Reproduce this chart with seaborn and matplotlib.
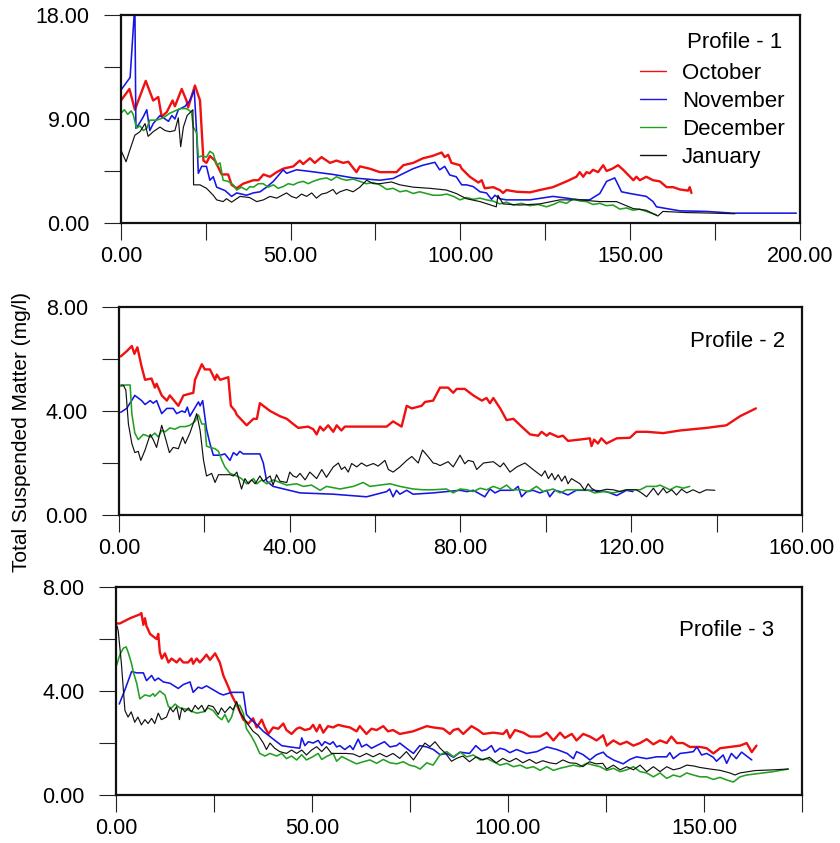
import matplotlib
matplotlib.use("Agg")
import matplotlib.pyplot as plt
from matplotlib.ticker import MultipleLocator, FormatStrFormatter
import seaborn as sns
import pandas as pd

# ---- data: (distance, TSM mg/l) ----
P1_OCT = [(0, 10.6), (2.5, 11.6), (4.1, 9.8), (7.3, 12.3), (9.5, 10.6), (11, 10.9), (12, 9.2), (13.5, 9.6),
          (15.2, 10.6), (15.9, 10.1), (17.9, 11.6), (19.3, 10.6), (19.8, 10.0), (21.8, 11.9), (23.3, 10.6),
          (24.3, 5.4), (25.2, 5.2), (26.2, 5.8), (27.7, 5.4), (29.7, 4.2), (31.6, 4.2), (32.6, 3.3), (34.1, 3.0),
          (36, 3.4), (39, 3.7), (40.5, 3.7), (42, 4.2), (43.9, 4.0), (45.9, 4.4), (47.8, 4.7), (50.8, 4.9),
          (52.7, 5.4), (53.7, 5.1), (55.7, 5.6), (57.1, 5.2), (59.1, 5.7), (61.6, 5.2), (63.5, 5.4), (65.5, 5.2),
          (67, 5.3), (69.4, 4.4), (70.4, 4.9), (73.3, 4.7), (76.3, 4.4), (81.2, 4.4), (83.2, 5.0), (86.1, 5.2),
          (89, 5.6), (91.8, 5.8), (94.5, 6.1), (95.4, 5.7), (96.4, 5.9), (97.4, 5.2), (99.9, 5.0), (100.4, 4.7),
          (102.8, 4.0), (105.3, 3.5), (106.3, 3.7), (107.2, 3.0), (109.7, 3.1), (111.6, 2.85), (112.6, 2.6),
          (113.6, 2.85), (116.6, 2.7), (120.5, 2.65), (123.4, 2.85), (127.3, 3.1), (131.3, 3.6), (134.2, 4.0),
          (135.2, 4.4), (136.2, 4.0), (137.2, 4.4), (138.1, 4.3), (139.1, 4.6), (140.6, 4.4), (142.1, 5.0),
          (143.1, 4.5), (144.8, 4.7), (146.5, 5.0), (148, 4.6), (150, 4.0), (151, 3.7), (151.9, 4.0), (152.9, 3.7),
          (154.8, 4.0), (156.8, 3.7), (158.8, 3.6), (160.8, 3.1), (162.7, 3.1), (164.7, 2.9), (167.1, 2.8),
          (167.6, 3.1), (168.1, 2.6)]
P1_NOV = [(0, 11.5), (2.7, 12.6), (4.1, 19.0), (4.4, 8.2), (5.4, 8.6), (6.6, 9.2), (7.6, 9.8), (8.5, 8.0),
          (9.5, 8.6), (11.5, 9.3), (13, 9.0), (14, 8.8), (15, 9.3), (15.9, 9.0), (16.9, 9.8), (18.9, 10.1),
          (20.3, 10.6), (21.6, 11.5), (22.3, 7.8), (22.8, 4.3), (23.8, 4.9), (25.2, 4.9), (26.2, 3.7), (27.2, 4.0),
          (28.2, 3.1), (30.7, 2.8), (32.6, 2.3), (34.1, 2.6), (37, 2.4), (39, 2.6), (41, 2.7), (42.9, 3.1),
          (44.9, 3.6), (47.8, 4.6), (48.8, 4.3), (51.7, 4.6), (54.7, 4.5), (62.5, 4.2), (68.4, 3.9), (76.3, 3.7),
          (80.2, 3.85), (86.1, 4.7), (89, 5.0), (92.5, 5.25), (93.9, 4.6), (95.4, 4.9), (96.9, 4.15), (98.8, 4.0),
          (100.4, 3.3), (101.8, 3.3), (103.8, 3.15), (105.8, 2.7), (107.7, 2.6), (109.2, 2.05), (110.2, 2.4),
          (111.6, 2.1), (113.6, 2.0), (120.5, 2.0), (127.3, 2.3), (131.3, 2.15), (135.2, 2.0), (138.1, 2.0),
          (141.1, 2.55), (143.1, 3.6), (145.5, 3.9), (146.5, 3.3), (147.5, 2.7), (150, 2.55), (152.9, 2.4),
          (154.8, 2.3), (156.8, 1.85), (157.8, 1.4), (160.7, 1.25), (164.7, 1.05), (172.5, 1.0), (180.4, 0.85),
          (199, 0.85)]
P1_DEC = [(0, 9.5), (1, 9.8), (2, 9.4), (3, 9.7), (3.6, 9.4), (4.6, 8.2), (5.6, 8.4), (6.6, 8.0), (7.6, 8.2),
          (8.5, 8.9), (10.5, 8.9), (12.5, 9.1), (14.4, 9.5), (17.4, 9.9), (19.3, 9.9), (20.8, 9.6), (21.3, 8.3),
          (22.3, 7.8), (22.8, 5.7), (23.8, 5.8), (25.2, 5.7), (26.2, 6.2), (27.2, 6.0), (28.2, 5.0), (29.2, 5.2),
          (30.1, 3.7), (31.6, 3.6), (33.1, 3.3), (34.1, 2.85), (35.5, 3.1), (37, 2.85), (38, 3.15), (39, 3.1),
          (40.5, 3.4), (41.9, 3.4), (43.4, 3.1), (44.9, 3.3), (46.3, 3.0), (47.8, 3.15), (49.3, 3.4), (50.8, 3.3),
          (52.2, 3.5), (53.7, 3.6), (55.2, 3.4), (56.6, 3.6), (58.6, 3.8), (60.6, 3.9), (62, 3.7), (63.5, 4.0),
          (65, 3.8), (66.5, 3.7), (68.4, 3.8), (70.4, 3.6), (72.3, 3.4), (74.3, 3.5), (76.3, 3.3), (78.3, 2.9),
          (80.2, 3.0), (82.2, 2.7), (84.1, 2.8), (86.1, 2.55), (88, 2.7), (90, 2.55), (92, 2.4), (94, 2.4),
          (96, 2.5), (98, 2.3), (99.9, 2.0), (101.8, 2.2), (103.8, 2.05), (105.8, 2.15), (107.7, 2.0), (109.6, 1.9),
          (111.6, 1.65), (113.6, 1.8), (115.6, 1.55), (118, 1.7), (120.5, 1.5), (123, 1.6), (125.4, 1.4),
          (127.4, 1.6), (129.3, 1.85), (131.3, 1.7), (133.3, 2.1), (135.2, 1.9), (137.2, 1.85), (139.1, 1.6),
          (141.1, 1.7), (143, 1.5), (145, 1.55), (147, 1.2), (149, 1.3), (150.9, 1.1), (152.8, 1.2), (154.8, 1.0),
          (157.8, 0.7)]
P1_JAN = [(0, 6.3), (1.5, 5.3), (2.6, 6.3), (4.1, 7.6), (5.6, 7.9), (7.1, 8.6), (8, 7.5), (9.5, 7.9), (11.5, 8.3),
          (13, 8.0), (14.4, 7.9), (15.9, 8.0), (16.9, 9.1), (17.6, 6.6), (18.4, 8.3), (19.5, 9.3), (21.2, 9.8),
          (21.4, 3.3), (23.3, 3.3), (25.2, 3.0), (27.2, 2.4), (28.2, 2.0), (30.1, 1.85), (31.1, 2.1), (32.6, 1.8),
          (35.1, 2.3), (37.9, 2.2), (40, 1.85), (42, 2.0), (43.9, 2.3), (45.9, 2.15), (48.8, 2.6), (50.2, 2.3),
          (51.7, 2.15), (53.2, 2.5), (54.7, 2.3), (56.2, 2.6), (57.6, 2.15), (59.1, 2.5), (60.6, 2.6), (62.5, 2.9),
          (63.5, 2.5), (64.5, 2.7), (66.5, 2.9), (68.4, 2.7), (70.4, 3.1), (72.4, 3.7), (74.4, 3.4), (76.3, 3.4),
          (79.7, 3.55), (82.2, 3.3), (86.1, 3.1), (91, 3.0), (95.9, 2.85), (98.8, 2.55), (101.8, 2.1),
          (105.8, 1.85), (110.6, 1.4), (111.1, 2.4), (112.6, 1.65), (117.5, 1.55), (123.4, 1.65), (129.3, 2.0),
          (135.2, 2.0), (141.1, 1.85), (146, 1.85), (150.9, 1.25), (154.8, 1.1), (158.2, 0.6), (159.7, 1.0),
          (166.6, 0.9), (174.5, 0.85), (180.9, 0.8)]

P2_OCT = [(0.4, 6.1), (1.8, 6.3), (3.0, 6.5), (3.6, 6.2), (4.3, 6.45), (5.3, 5.7), (6.1, 5.2), (7.6, 5.25),
          (8.4, 4.9), (8.8, 5.05), (10, 4.6), (11.2, 4.4), (11.9, 4.6), (13.9, 4.2), (15.1, 4.6), (17.4, 4.7),
          (17.8, 5.2), (19.4, 5.8), (20.1, 5.6), (21.3, 5.6), (22.5, 5.2), (22.9, 5.4), (23.7, 5.2), (25.6, 5.3),
          (26.2, 4.2), (27.2, 4.0), (27.6, 3.85), (29.9, 3.45), (31.5, 3.7), (32.3, 3.7), (33, 4.3), (35.4, 4.0),
          (37.7, 3.8), (39.3, 3.7), (40.8, 3.5), (42, 3.35), (44.3, 3.4), (45.5, 3.3), (46.3, 3.1), (47.1, 3.4),
          (47.9, 3.25), (49, 3.45), (50.2, 3.2), (51, 3.45), (52.1, 3.25), (52.9, 3.4), (62.7, 3.4), (64.2, 3.6),
          (66.2, 3.4), (67.4, 4.2), (68.6, 4.1), (70.9, 4.2), (71.7, 4.35), (73.6, 4.4), (75.2, 4.9), (77.1, 4.9),
          (78.3, 4.7), (79.1, 4.85), (81.0, 4.85), (83.0, 4.6), (85, 4.4), (86.1, 4.5), (86.9, 4.3), (87.7, 4.5),
          (89.3, 4.1), (90.8, 3.65), (92.4, 3.7), (94, 3.45), (96.3, 3.1), (98.2, 3.05), (99, 3.2), (100.2, 3.05),
          (100.9, 3.15), (102.9, 3.0), (104, 3.05), (105.2, 2.85), (107.9, 2.9), (110.3, 2.95), (110.7, 2.65),
          (111.3, 2.9), (112.2, 2.75), (113, 2.95), (114.2, 2.75), (116.6, 2.95), (119.7, 2.97), (121.2, 3.2),
          (123.6, 3.2), (127.5, 3.15), (131.4, 3.25), (137.6, 3.35), (142.3, 3.45), (145.5, 3.8), (149.2, 4.1)]
P2_NOV = [(0.4, 3.95), (1.8, 4.1), (3.7, 4.6), (5.3, 4.4), (6.1, 4.25), (7.3, 4.4), (8.0, 4.3), (8.8, 4.4),
          (10, 3.9), (11.2, 4.1), (12.7, 4.1), (13.5, 3.9), (14.7, 4.0), (15.5, 3.95), (16, 4.15), (16.6, 3.8),
          (18.6, 4.35), (19, 4.2), (19.6, 4.4), (20.5, 3.3), (21.3, 2.75), (22.1, 2.3), (23.7, 2.3), (24.8, 2.35),
          (26, 2.1), (26.8, 2.4), (27.6, 2.3), (28.3, 2.45), (29.1, 2.35), (33, 2.35), (33.8, 2.0), (34.6, 1.3),
          (36.1, 1.1), (42.4, 0.85), (50.2, 0.8), (58, 0.7), (62.7, 0.9), (63.4, 1.0), (64.2, 0.7), (65, 0.95),
          (65.8, 0.8), (67.4, 0.95), (68.9, 0.8), (73.6, 0.85), (79.9, 0.95), (81.5, 0.9), (83, 0.95), (85.7, 0.7),
          (86.9, 1.0), (88.1, 0.85), (89.3, 0.95), (92.4, 0.95), (93.5, 1.1), (94.3, 0.7), (95.5, 0.9),
          (97.0, 0.95), (98.6, 0.85), (100.2, 0.95), (100.9, 0.7), (102.1, 0.95), (103.3, 0.9), (105.2, 0.77),
          (107.1, 0.95), (111.0, 0.95), (114.2, 0.9), (116.6, 0.75), (118.9, 0.95), (120.4, 0.9)]
P2_DEC = [(0.4, 4.95), (1.4, 5.0), (2.6, 5.0), (3.0, 3.9), (3.7, 3.15), (4.5, 2.9), (5.7, 3.1), (7.3, 3.0),
          (8.4, 3.15), (9.2, 3.0), (10, 3.25), (10.8, 3.2), (11.9, 3.35), (13.1, 3.3), (14.3, 3.4), (15.5, 3.4),
          (16.6, 3.45), (17.8, 3.6), (18.6, 3.85), (19.4, 3.5), (20.1, 3.5), (20.5, 2.65), (21.3, 2.6),
          (22.5, 2.55), (23.3, 2.45), (24.1, 2.1), (24.8, 1.85), (26, 1.6), (27.6, 1.5), (28.7, 1.4), (29.9, 1.2),
          (31.5, 1.4), (32.3, 1.2), (33.4, 1.35), (34.6, 1.2), (36.1, 1.35), (37.7, 1.25), (39.3, 1.15),
          (41.6, 1.2), (43.2, 1.1), (45.1, 1.15), (47.1, 0.95), (48.6, 1.1), (51.8, 1.0), (54.9, 1.1), (57.2, 1.25),
          (58.8, 1.1), (61.1, 1.15), (63.5, 1.2), (65.8, 1.1), (68.9, 1.0), (71.3, 0.97), (73.6, 0.97), (76.7, 1.0),
          (78.3, 0.85), (79.9, 1.0), (81.5, 0.97), (83, 0.9), (84.6, 1.03), (86.1, 0.97), (87.7, 1.1), (89.3, 1.0),
          (90.8, 1.15), (92, 0.97), (94.3, 0.97), (95.9, 0.9), (97.8, 1.1), (99.4, 0.9), (101.7, 1.0),
          (103.3, 0.85), (104.9, 0.97), (108.1, 0.97), (109.7, 0.97), (111.4, 0.85), (113.6, 0.9), (115.8, 0.85),
          (118.9, 0.97), (122.1, 0.97), (123.6, 1.1), (125.9, 1.1), (126.7, 1.15), (129.1, 0.97), (130.6, 1.1),
          (132.2, 1.03), (133.7, 1.1)]
P2_JAN = [(0.4, 5.0), (1.0, 5.0), (1.6, 4.8), (2.2, 3.5), (3.0, 2.75), (3.7, 2.4), (4.5, 2.45), (5.1, 2.1),
          (6.1, 2.5), (7.3, 3.1), (8.0, 2.9), (8.8, 2.6), (10, 3.45), (10.8, 3.0), (11.8, 2.4), (12.7, 2.6),
          (13.9, 2.55), (14.9, 3.0), (15.5, 2.75), (16.6, 3.15), (18.2, 3.9), (19, 3.25), (19.8, 2.1), (20.5, 1.5),
          (21.7, 1.6), (22.5, 1.25), (23.3, 1.55), (24.5, 1.55), (26, 1.55), (26.8, 1.5), (27.6, 1.65), (28.7, 1.0),
          (29.5, 1.4), (30.3, 1.2), (31.1, 1.35), (31.9, 1.2), (33, 1.5), (33.8, 1.3), (35.4, 1.5), (36.1, 1.15),
          (36.9, 1.55), (37.7, 1.3), (39.3, 1.25), (40, 1.65), (40.8, 1.5), (41.6, 1.45), (42.4, 1.6), (43.6, 1.35),
          (44.7, 1.65), (46.3, 1.4), (47.5, 1.75), (48.6, 1.45), (50.2, 1.85), (51.4, 2.0), (52.1, 1.75),
          (52.9, 1.85), (53.7, 1.65), (54.5, 1.98), (55.7, 1.85), (56.8, 2.0), (58, 1.88), (59.6, 1.98),
          (60.7, 1.88), (62.3, 2.1), (63.1, 1.75), (64.2, 1.65), (65.8, 1.85), (67.4, 2.1), (68.6, 2.25),
          (70.1, 2.0), (71.1, 2.5), (72.4, 2.25), (73.6, 2.0), (74.4, 1.97), (75.2, 1.9), (77.1, 2.05),
          (78.3, 1.85), (79.9, 2.3), (81.0, 1.97), (81.8, 2.1), (83.0, 2.05), (83.8, 1.75), (85.4, 2.0),
          (87.7, 2.05), (89.3, 1.85), (90.1, 2.0), (91.6, 1.65), (93.2, 1.85), (95.1, 2.0), (97.0, 1.75),
          (99, 1.5), (99.8, 1.7), (100.6, 1.4), (101.4, 1.6), (102.1, 1.35), (102.9, 1.55), (103.7, 1.3),
          (104.5, 1.5), (105.2, 1.2), (106.0, 1.4), (108.0, 1.2), (109.1, 0.95), (109.9, 1.2), (110.7, 1.03),
          (111.9, 0.9), (114.2, 0.99), (115.8, 0.97), (117.4, 0.9), (118.9, 0.97), (121.2, 0.97), (122.4, 0.85),
          (123.6, 0.7), (125.2, 1.03), (126.3, 0.77), (127.5, 1.03), (128.3, 0.85), (129.5, 0.97), (130.6, 0.77),
          (131.8, 0.99), (133, 0.85), (134.5, 0.97), (136, 0.85), (137.6, 0.97), (139.6, 0.95)]

P3_OCT = [(0, 6.6), (1.0, 6.6), (3.6, 6.8), (6.1, 6.95), (6.5, 7.0), (7.0, 6.55), (7.4, 6.8), (7.8, 6.5),
          (8.7, 6.2), (9.5, 6.1), (10.4, 6.0), (10.8, 6.2), (11.2, 5.5), (11.7, 5.25), (12.5, 5.45), (13.4, 5.1),
          (14.2, 5.25), (15.5, 5.1), (16.3, 5.25), (17.2, 5.1), (18.4, 5.1), (19.3, 5.25), (19.7, 5.05),
          (20.6, 5.25), (21.4, 5.1), (22.3, 5.25), (23.1, 5.4), (24, 5.2), (25.3, 5.45), (26.5, 5.1), (27.4, 4.6),
          (28.7, 4.15), (29.5, 3.85), (31.2, 3.35), (32.5, 2.9), (33.8, 2.75), (35, 2.95), (35.9, 2.6), (37.2, 2.9),
          (38, 2.6), (38.9, 2.35), (40.1, 2.6), (41.4, 2.55), (42.7, 2.75), (43.5, 2.5), (44.8, 2.35), (46.1, 2.55),
          (46.9, 2.6), (48.2, 2.5), (49.5, 2.55), (50.3, 2.7), (51.2, 2.45), (52, 2.7), (52.9, 2.4), (54.1, 2.65),
          (55.4, 2.6), (56.7, 2.7), (58, 2.65), (59.7, 2.6), (61.4, 2.45), (62.2, 2.65), (63.9, 2.35), (65.2, 2.55),
          (66.5, 2.5), (68.2, 2.65), (69.4, 2.45), (70.7, 2.5), (72.4, 2.35), (75.8, 2.45), (79.3, 2.65),
          (81, 2.6), (83.5, 2.55), (85.2, 2.35), (86.1, 2.5), (87.3, 2.55), (88.6, 2.35), (90.7, 2.65), (92.4, 2.5),
          (93.7, 2.35), (96.3, 2.4), (98.8, 2.35), (99.7, 2.5), (100.5, 2.2), (101.8, 2.5), (103.9, 2.4),
          (105.6, 2.25), (108.2, 2.25), (109.9, 2.4), (111.6, 2.1), (113.3, 2.4), (114.5, 2.2), (116.3, 2.35),
          (117.5, 2.1), (119.2, 2.35), (120.9, 2.25), (122.6, 2.1), (124.3, 2.3), (125.2, 1.9), (126.9, 2.1),
          (128.6, 1.95), (130.3, 2.05), (132, 1.9), (133.7, 2.0), (135.4, 2.15), (137.1, 1.95), (138.8, 2.1),
          (140.5, 2.0), (141.7, 2.25), (143.1, 2.0), (144.7, 2.0), (146.4, 1.85), (149, 1.85), (150.7, 1.8),
          (152.4, 1.6), (154.1, 1.8), (156.6, 1.85), (159.2, 1.9), (160.9, 2.0), (162.2, 1.65), (163.4, 1.9)]
P3_NOV = [(0.85, 3.5), (2.3, 4.05), (4.0, 4.75), (5.3, 4.7), (7, 4.7), (7.8, 4.4), (9.1, 4.6), (9.9, 4.4),
          (10.8, 4.5), (12.1, 4.35), (13.8, 4.3), (15.9, 4.1), (17.2, 4.25), (18.9, 4.35), (19.7, 3.95), (21, 4.15),
          (21.9, 4.1), (23.1, 4.2), (24.8, 4.05), (26.5, 3.9), (27.4, 3.85), (29.5, 3.95), (31.6, 3.95),
          (32.5, 3.95), (33.3, 3.1), (34.2, 2.95), (36.3, 2.65), (37.6, 2.45), (39.3, 2.25), (41, 2.05),
          (42.3, 1.9), (44.4, 1.85), (46.9, 1.8), (47.4, 2.2), (48.2, 1.9), (49.1, 2.05), (50.3, 2.0), (51.6, 2.1),
          (52.5, 1.9), (53.3, 2.05), (54.6, 1.95), (55.4, 2.05), (56.3, 1.85), (57.1, 1.9), (58.4, 1.75),
          (59.7, 1.9), (60.5, 1.75), (61.8, 2.15), (62.7, 1.85), (63.9, 1.95), (65.2, 1.8), (66.5, 1.9),
          (68.5, 2.05), (69.9, 1.85), (71.6, 1.9), (72.4, 2.0), (74.1, 1.8), (75.9, 1.6), (77.5, 1.9), (79.3, 1.85),
          (81, 1.75), (82.7, 1.55), (84.4, 1.6), (86.1, 1.45), (87.8, 1.65), (90.2, 1.6), (91.8, 1.9), (93.3, 1.7),
          (94.5, 1.75), (95.8, 1.9), (96.7, 1.65), (98.0, 1.8), (99.2, 1.75), (100.5, 1.63), (102.2, 1.75),
          (104.8, 1.6), (107.4, 1.67), (109.9, 1.85), (112.5, 1.75), (115.1, 1.6), (116.7, 1.4), (117.5, 1.67),
          (119.2, 1.55), (120.9, 1.35), (122.6, 1.55), (124.3, 1.65), (125.2, 1.5), (126.9, 1.35), (129.4, 1.2),
          (131.1, 1.37), (132.8, 1.47), (135.4, 1.4), (137.9, 1.47), (140.5, 1.47), (141.3, 1.63), (142.2, 1.4),
          (143.9, 1.6), (145.6, 1.63), (147.3, 1.67), (148.2, 1.85), (149.4, 1.54), (150.7, 1.6), (152.4, 1.45),
          (153.2, 1.3), (154.9, 1.54), (155.8, 1.22), (157, 1.6), (158.3, 1.4), (159.6, 1.65), (160.9, 1.5),
          (162.2, 1.35)]
P3_DEC = [(0.2, 5.0), (1, 5.4), (1.9, 5.65), (2.6, 5.7), (3.1, 5.5), (4, 5.05), (4.4, 4.75), (5.3, 4.3),
          (6.1, 3.7), (7.4, 3.85), (8.7, 3.8), (9.5, 3.9), (9.9, 3.8), (11.2, 4.0), (12.5, 3.85), (13.4, 3.4),
          (14.2, 3.35), (15.1, 3.5), (16.3, 3.35), (18.0, 3.3), (18.8, 3.25), (20.6, 3.15), (22.3, 3.2),
          (23.5, 3.35), (24.8, 3.25), (26.1, 3.0), (27, 2.9), (27.8, 3.1), (28.7, 2.8), (29.5, 3.0), (30.4, 3.45),
          (31.6, 3.45), (32.5, 3.15), (33.3, 2.55), (34.6, 2.25), (35.5, 2.0), (36.7, 1.6), (38, 1.5), (39.3, 1.6),
          (41, 1.5), (42.3, 1.6), (43.5, 1.4), (44.8, 1.5), (46.1, 1.35), (47.4, 1.55), (48.6, 1.35), (50.3, 1.48),
          (51.6, 1.6), (52.5, 1.37), (53.7, 1.48), (55.4, 1.6), (56.3, 1.3), (57.6, 1.48), (59.3, 1.35),
          (61.4, 1.2), (63.1, 1.28), (64.8, 1.35), (66.5, 1.22), (68.2, 1.37), (69.9, 1.24), (71.6, 1.2),
          (73.3, 1.28), (74.9, 1.15), (76.3, 1.1), (77.6, 1.0), (79.3, 1.24), (80.9, 1.15), (82.7, 1.55),
          (84.4, 1.67), (86.1, 1.47), (87.8, 1.65), (89.5, 1.47), (91.2, 1.54), (92.9, 1.35), (94.6, 1.41),
          (96.3, 1.28), (98, 1.15), (99.7, 1.22), (101.4, 1.09), (103.1, 1.15), (104.8, 1.03), (106.5, 1.09),
          (108.2, 0.95), (109.9, 1.09), (111.6, 0.95), (113.3, 1.03), (115, 1.09), (116.7, 1.15), (118.4, 1.09),
          (120.1, 1.22), (121.8, 1.15), (123.5, 1.09), (125.2, 0.95), (126.9, 1.03), (128.6, 0.9), (130.3, 0.97),
          (132, 1.09), (133.7, 0.9), (135.4, 0.85), (137.1, 0.7), (138.8, 0.85), (140.5, 0.64), (142.2, 0.77),
          (143.9, 0.7), (145.6, 0.85), (147.3, 0.77), (149, 0.7), (150.7, 0.7), (152.4, 0.6), (154.1, 0.68),
          (155.8, 0.58), (157.5, 0.5), (159.2, 0.7), (160.9, 0.77), (167.7, 0.9), (171.5, 1.0)]
P3_JAN = [(0.3, 6.5), (0.6, 6.3), (1.4, 5.05), (2.3, 3.25), (3.1, 3.0), (3.9, 3.2), (4.8, 2.8), (5.6, 3.0),
          (6.5, 2.7), (7.4, 2.9), (8.2, 2.75), (9.1, 2.95), (9.9, 2.75), (10.8, 3.15), (11.6, 2.9), (12.9, 3.0),
          (13.8, 3.35), (14.6, 3.2), (15.5, 3.4), (16.2, 2.9), (16.8, 3.35), (17.6, 3.2), (18.5, 3.35), (19.3, 3.2),
          (20.2, 3.45), (21, 3.3), (21.9, 3.45), (22.7, 3.2), (23.6, 3.45), (24.8, 3.4), (26.1, 3.1), (26.9, 3.35),
          (27.8, 3.17), (29.1, 3.4), (29.9, 3.27), (30.8, 3.6), (31.6, 3.2), (33.3, 2.8), (35, 2.45), (36.3, 2.3),
          (37.6, 2.0), (38.4, 1.75), (39.3, 2.0), (40.5, 1.8), (41.8, 1.67), (43.5, 1.6), (44.8, 1.73),
          (46.1, 1.6), (47.4, 1.73), (48.6, 1.54), (49.9, 1.73), (51.2, 1.86), (52.5, 1.67), (53.7, 1.86),
          (55, 1.6), (56.3, 1.6), (58.8, 1.6), (60.5, 1.58), (62.2, 1.47), (63.9, 1.6), (65.6, 1.47), (67.3, 1.6),
          (69, 1.47), (70.7, 1.6), (72.4, 1.41), (74.1, 1.67), (75.9, 1.35), (77.6, 1.73), (78.8, 2.0),
          (80.1, 1.86), (81.4, 2.05), (82.7, 1.8), (84.1, 1.6), (85.6, 1.3), (86.9, 1.41), (88.5, 1.5),
          (90.2, 1.28), (91.9, 1.47), (93.6, 1.35), (95.3, 1.45), (97, 1.24), (98.7, 1.41), (100.4, 1.28),
          (102.1, 1.41), (103.8, 1.24), (105.5, 1.37), (107.2, 1.22), (108.9, 1.32), (110.6, 1.24), (112.3, 1.2),
          (114, 1.35), (115.7, 1.24), (117.4, 1.22), (119.1, 1.09), (120.8, 1.28), (122.5, 1.2), (124.2, 1.22),
          (125.2, 1.0), (126.9, 1.15), (128.6, 0.97), (130.3, 1.09), (132, 0.97), (133.7, 1.15), (135.4, 0.9),
          (137.1, 1.09), (138.8, 0.9), (140.5, 1.09), (142.2, 0.97), (143.9, 1.03), (145.6, 1.15), (147.3, 1.12),
          (149, 1.06), (151.6, 1.0), (154.1, 0.95), (156.6, 0.85), (157.9, 0.77), (159.2, 0.85), (163, 0.94),
          (167.7, 0.97), (171.5, 1.0)]

MONTHS = ["October", "November", "December", "January"]
COLORS = {"October": "#f01010", "November": "#1515e6", "December": "#22a022", "January": "#111111"}
WIDTHS = {"October": 1.7, "November": 1.15, "December": 1.15, "January": 0.85}

PANELS = [
    {"title": "Profile - 1", "series": [P1_OCT, P1_NOV, P1_DEC, P1_JAN], "xmax": 200, "xmaj": 50, "ymax": 18,
     "ymaj": 9, "rect": [0.144, 0.7355, 0.808, 0.2467], "title_xy": (0.975, 0.870)},
    {"title": "Profile - 2", "series": [P2_OCT, P2_NOV, P2_DEC, P2_JAN], "xmax": 160, "xmaj": 40, "ymax": 8,
     "ymaj": 4, "rect": [0.1417, 0.3891, 0.813, 0.2467], "title_xy": (0.975, 0.832)},
    {"title": "Profile - 3", "series": [P3_OCT, P3_NOV, P3_DEC, P3_JAN], "xmax": 175, "xmaj": 50, "ymax": 8,
     "ymaj": 4, "rect": [0.138, 0.0569, 0.8167, 0.2467], "title_xy": (0.959, 0.793)},
]

sns.set_style("ticks")
plt.rcParams["font.family"] = ["Liberation Sans", "DejaVu Sans"]
plt.rcParams.update({"text.color": "black", "xtick.color": "#222222", "ytick.color": "#222222",
                     "xtick.labelcolor": "black", "ytick.labelcolor": "black"})

fig = plt.figure(figsize=(8.4, 8.43), dpi=100)

for i, panel in enumerate(PANELS):
    ax = fig.add_axes(panel["rect"])
    for month, pts in zip(MONTHS, panel["series"]):
        df = pd.DataFrame(pts, columns=["dist", "tsm"])
        sns.lineplot(data=df, x="dist", y="tsm", ax=ax, estimator=None, sort=False,
                     color=COLORS[month], linewidth=WIDTHS[month],
                     label=month if i == 0 else None)
    ax.set_xlim(0, panel["xmax"])
    ax.set_ylim(0, panel["ymax"])
    ax.xaxis.set_major_locator(MultipleLocator(panel["xmaj"]))
    ax.xaxis.set_minor_locator(MultipleLocator(panel["xmaj"] / 2))
    ax.yaxis.set_major_locator(MultipleLocator(panel["ymaj"]))
    ax.yaxis.set_minor_locator(MultipleLocator(panel["ymaj"] / 2))
    ax.xaxis.set_major_formatter(FormatStrFormatter("%.2f"))
    ax.yaxis.set_major_formatter(FormatStrFormatter("%.2f"))
    ax.tick_params(which="both", direction="out", length=12.5, width=0.8)
    ax.tick_params(axis="x", which="major", pad=4, labelsize=15.5)
    ax.tick_params(axis="y", which="major", pad=10, labelsize=15.5)
    ax.set_xlabel("")
    ax.set_ylabel("")
    for sp in ax.spines.values():
        sp.set_linewidth(1.6)
        sp.set_color("#111111")
    ax.text(*panel["title_xy"], panel["title"], transform=ax.transAxes, ha="right", va="center", fontsize=16)
    if i == 0:
        leg = ax.legend(loc="upper right", bbox_to_anchor=(0.978, 0.771), frameon=False, fontsize=16,
                        handlelength=1.2, handletextpad=0.7, labelspacing=0.32, borderpad=0, borderaxespad=0)
        for h in leg.get_lines():
            h.set_linewidth(1.0)
    elif ax.get_legend() is not None:
        ax.get_legend().remove()

fig.text(0.026, 0.487, "Total Suspended Matter (mg/l)", rotation=90, ha="center", va="center", fontsize=15)

fig.savefig("out.png", dpi=100)
